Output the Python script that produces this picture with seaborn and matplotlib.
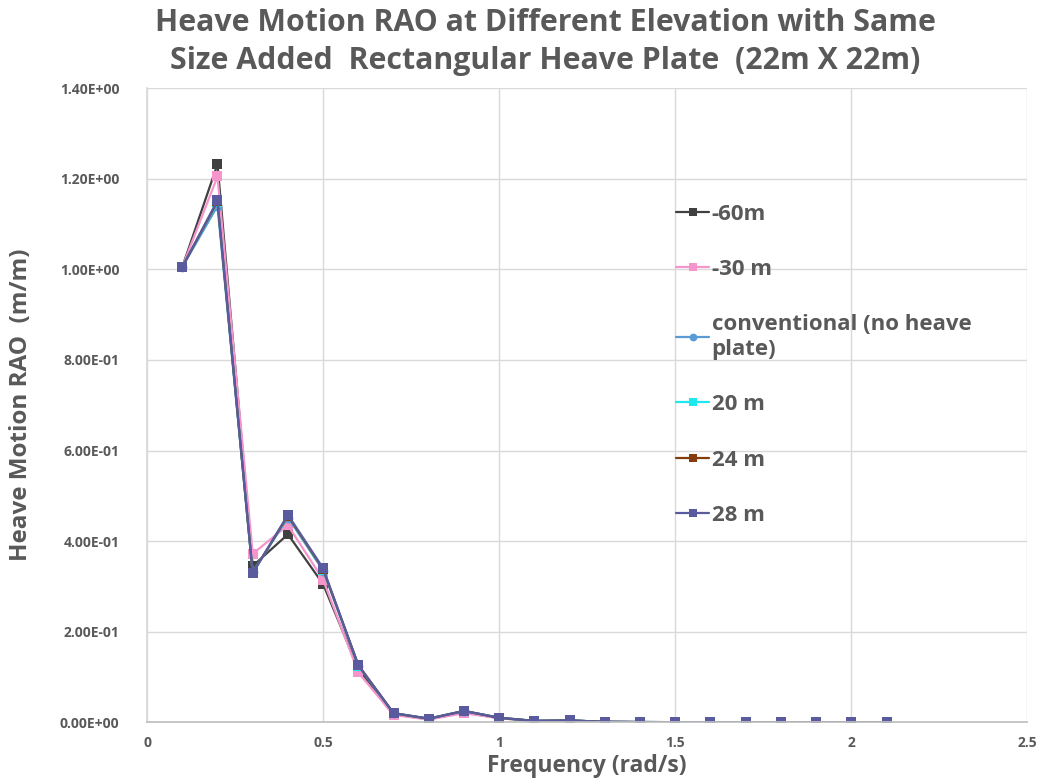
import matplotlib
matplotlib.use("Agg")
import matplotlib.pyplot as plt
import seaborn as sns
import numpy as np
from matplotlib.ticker import FuncFormatter, MultipleLocator

sns.set_theme(style="white")
plt.rcParams['font.family'] = ['Open Sans', 'DejaVu Sans']

freq = [0.1, 0.2, 0.3, 0.4, 0.5, 0.6, 0.7, 0.8, 0.9, 1.0, 1.1, 1.2, 1.3, 1.4,
        1.5, 1.6, 1.7, 1.8, 1.9, 2.0, 2.1]

rao_m60 = [1.005, 1.232, 0.345, 0.415, 0.305, 0.118, 0.018, 0.007, 0.022, 0.009,
           0.003, 0.004, 0.001, 0.0005, 0.0003, 0.0002, 0.0001, 0.0001, 0.0, 0.0, 0.0]
rao_m30 = [1.005, 1.205, 0.372, 0.435, 0.315, 0.110, 0.016, 0.006, 0.020, 0.009,
           0.003, 0.004, 0.001, 0.0005, 0.0003, 0.0002, 0.0001, 0.0001, 0.0, 0.0, 0.0]
rao_conv = [1.005, 1.140, 0.332, 0.452, 0.335, 0.125, 0.020, 0.008, 0.025, 0.010,
            0.003, 0.004, 0.001, 0.0005, 0.0003, 0.0002, 0.0001, 0.0001, 0.0, 0.0, 0.0]
rao_20 = [1.005, 1.148, 0.330, 0.455, 0.337, 0.125, 0.020, 0.008, 0.025, 0.010,
          0.003, 0.004, 0.001, 0.0005, 0.0003, 0.0002, 0.0001, 0.0001, 0.0, 0.0, 0.0]
rao_24 = [1.005, 1.150, 0.330, 0.456, 0.338, 0.126, 0.020, 0.008, 0.025, 0.010,
          0.003, 0.004, 0.001, 0.0005, 0.0003, 0.0002, 0.0001, 0.0001, 0.0, 0.0, 0.0]
rao_28 = [1.005, 1.152, 0.329, 0.458, 0.340, 0.126, 0.020, 0.008, 0.025, 0.010,
          0.003, 0.004, 0.001, 0.0005, 0.0003, 0.0002, 0.0001, 0.0001, 0.0, 0.0, 0.0]

labels = ["-60m", "-30 m", "conventional (no heave\nplate)", "20 m", "24 m", "28 m"]
series = [rao_m60, rao_m30, rao_conv, rao_20, rao_24, rao_28]
colors = ["#404040", "#F595CC", "#5B9BD5", "#1CE8EE", "#843C0C", "#5A5B9E"]
markers = ["s", "s", "o", "s", "s", "s"]

fig = plt.figure(figsize=(10.43, 7.8), dpi=100)
ax = fig.add_axes([0.141, 0.074, 0.844, 0.813])

for lab, vals, col, mk in zip(labels, series, colors, markers):
    sns.lineplot(x=freq, y=vals, ax=ax, color=col, marker=mk, markersize=7,
                 markeredgewidth=0, linewidth=1.6, label=lab)

ax.set_xlim(0, 2.5)
ax.set_ylim(0, 1.4)
ax.xaxis.set_major_locator(MultipleLocator(0.5))
ax.yaxis.set_major_locator(MultipleLocator(0.2))
ax.yaxis.set_major_formatter(FuncFormatter(lambda v, p: f"{v:.2E}"))
ax.xaxis.set_major_formatter(FuncFormatter(lambda v, p: f"{v:g}"))
ax.grid(True, color="#D9D9D9", linewidth=1)
ax.set_axisbelow(True)
for s in ["top", "right"]:
    ax.spines[s].set_visible(False)
ax.spines["left"].set_color("#D9D9D9")
ax.spines["bottom"].set_color("#BFBFBF")
ax.tick_params(axis="x", length=0, labelsize=10, labelcolor="#595959", pad=10)
ax.tick_params(axis="y", length=0, labelsize=10, labelcolor="#595959", pad=20)
for t in ax.get_xticklabels() + ax.get_yticklabels():
    t.set_fontweight("bold")

ax.set_xlabel("Frequency (rad/s)", fontsize=16.5, fontweight="bold", color="#595959", labelpad=3)
ax.set_ylabel("Heave Motion RAO  (m/m)", fontsize=17.5, fontweight="bold", color="#595959", labelpad=19)

fig.text(0.523, 0.99, "Heave Motion RAO at Different Elevation with Same\nSize Added  Rectangular Heave Plate  (22m X 22m)",
         ha="center", va="top", fontsize=21.8,
         fontweight="bold", color="#595959", linespacing=1.35)

leg = ax.legend(loc="upper left", bbox_to_anchor=(0.601, 0.818), frameon=False,
                fontsize=16, labelspacing=1.55, handlelength=1.5, handletextpad=0.1,
                borderaxespad=0, borderpad=0, markerscale=0.8)
for t in leg.get_texts():
    t.set_color("#595959")
    t.set_fontweight("bold")

fig.savefig("out.png", dpi=100)
